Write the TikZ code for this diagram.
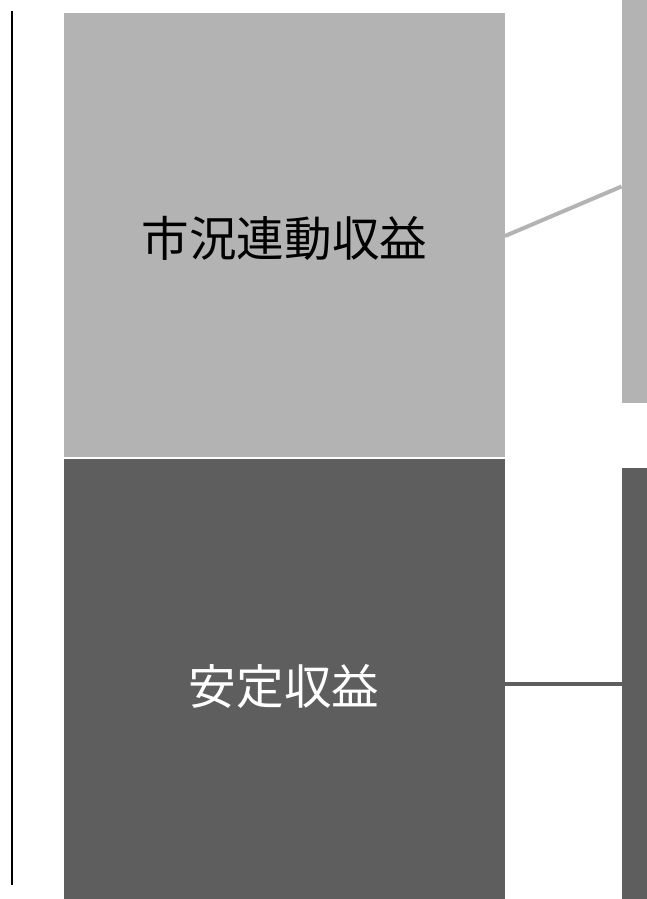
\documentclass[tikz,border=0pt]{standalone}
\usepackage{fontspec}
\newfontfamily\cjk{Noto Sans CJK JP}
\definecolor{lightg}{HTML}{B3B3B3}
\definecolor{darkg}{HTML}{5E5E5E}
\begin{document}
\begin{tikzpicture}[x=1pt,y=-1pt,
  blk/.style={draw=none,inner sep=0pt,outer sep=0pt,anchor=north west},
  lbl/.style={font=\cjk\fontsize{47.6}{52}\selectfont,inner sep=0pt}]
\useasboundingbox (0,0) rectangle (647,899);
% left rule
\coordinate (lt) at (12,11);
\coordinate (lb) at (12,885);
\draw[line width=2pt,black] (lt) -- (lb);
% boxes
\node[blk,fill=lightg,minimum width=441pt,minimum height=443.5pt] (top) at (64,13) {};
\node[blk,fill=darkg,minimum width=441pt,minimum height=440pt] (bot) at (64,459) {};
\node[blk,fill=lightg,minimum width=26pt,minimum height=402.5pt] (rtop) at (621.5,0) {};
\node[blk,fill=darkg,minimum width=26pt,minimum height=431pt] (rbot) at (621.5,468) {};
% labels
\node[lbl,text=black] (tl) at (284.5,238) {市況連動収益};
\node[lbl,text=white] (bl) at (284,686) {安定収益};
% connectors
\coordinate (c1) at (rtop.west |- 0,186.5);
\coordinate (c2) at (rbot.west |- 0,684);
\draw[lightg,line width=4pt] (top.east |- 0,236) -- (c1);
\draw[darkg,line width=3.5pt] (bot.east |- 0,684) -- (c2);
\end{tikzpicture}
\end{document}
